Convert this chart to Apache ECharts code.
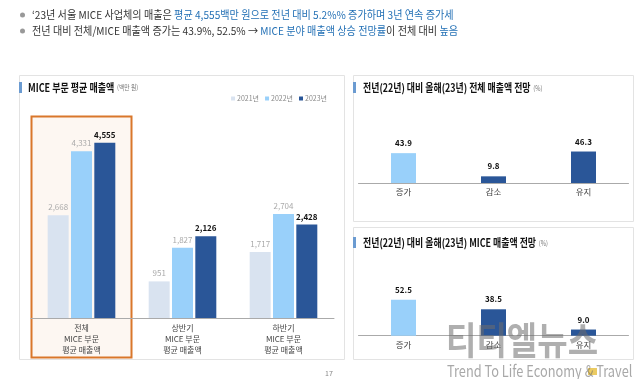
<!DOCTYPE html>
<html><head><meta charset="utf-8">
<script src="https://cdn.jsdelivr.net/npm/echarts@6/dist/echarts.min.js"></script>
<style>html,body{margin:0;padding:0;background:#fff}#c{width:640px;height:379px}</style>
</head><body><div id="c"></div>
<script>
const FONT = '"Noto Sans CJK KR", "Noto Sans", sans-serif';
// Left chart data
const categories = ['전체\nMICE 부문\n평균 매출액', '상반기\nMICE 부문\n평균 매출액', '하반기\nMICE 부문\n평균 매출액'];
const years = ['2021년', '2022년', '2023년'];
const values2021 = [2668, 951, 1717];
const values2022 = [4331, 1827, 2704];
const values2023 = [4555, 2126, 2428];
// Right charts data
const outlookCats = ['증가', '감소', '유지'];
const totalOutlook = [43.9, 9.8, 46.3];
const miceOutlook = [52.5, 38.5, 9.0];

const C21 = '#d9e3f0', C22 = '#99d0fa', C23 = '#2a5698';

const chart = echarts.init(document.getElementById('c'), null, {renderer: 'canvas'});

function barLabel(color, bold) {
  return {show: true, position: 'top', distance: 4, fontFamily: FONT, fontSize: 8,
          color: color, fontWeight: bold ? 'bold' : 'normal',
          formatter: p => p.value.toLocaleString('en-US')};
}

const option = {
  backgroundColor: '#fff',
  animation: false,
  textStyle: {fontFamily: FONT},
  legend: {
    data: years, right: 308, top: 90, itemWidth: 4, itemHeight: 4, itemGap: 6,
    icon: 'rect',
    textStyle: {fontFamily: FONT, fontSize: 7, color: '#888', padding: [0, 0, 0, -3]}
  },
  grid: [
    {left: 31, width: 303, top: 125.6, height: 192.4},
    {left: 358.5, width: 270, top: 115, height: 68},
    {left: 358.5, width: 270, top: 267.1, height: 68.6}
  ],
  xAxis: [
    {gridIndex: 0, type: 'category', data: categories,
     axisLine: {lineStyle: {color: '#aaa'}}, axisTick: {show: false},
     axisLabel: {fontFamily: FONT, fontSize: 8, color: '#444', lineHeight: 10.7, margin: 5}},
    {gridIndex: 1, type: 'category', data: outlookCats,
     axisLine: {lineStyle: {color: '#aaa'}}, axisTick: {show: false},
     axisLabel: {fontFamily: FONT, fontSize: 8.5, color: '#444', margin: 5}},
    {gridIndex: 2, type: 'category', data: outlookCats,
     axisLine: {lineStyle: {color: '#aaa'}}, axisTick: {show: false},
     axisLabel: {fontFamily: FONT, fontSize: 8.5, color: '#444', margin: 5}}
  ],
  yAxis: [
    {gridIndex: 0, type: 'value', min: 0, max: 5000, show: false, splitLine: {show: false}},
    {gridIndex: 1, type: 'value', min: 0, max: 100, show: false, splitLine: {show: false}},
    {gridIndex: 2, type: 'value', min: 0, max: 100, show: false, splitLine: {show: false}}
  ],
  series: [
    {name: years[0], type: 'bar', xAxisIndex: 0, yAxisIndex: 0, data: values2021,
     barWidth: 21, barGap: '11%', itemStyle: {color: C21}, label: barLabel('#aaa', false)},
    {name: years[1], type: 'bar', xAxisIndex: 0, yAxisIndex: 0, data: values2022,
     barWidth: 21, barGap: '11%', itemStyle: {color: C22}, label: barLabel('#aaa', false)},
    {name: years[2], type: 'bar', xAxisIndex: 0, yAxisIndex: 0, data: values2023,
     barWidth: 21, barGap: '11%', itemStyle: {color: C23}, label: barLabel('#111', true)},
    {name: 'total', type: 'bar', xAxisIndex: 1, yAxisIndex: 1, barWidth: 25,
     data: totalOutlook.map((v, i) => ({value: v, itemStyle: {color: i === 0 ? C22 : C23}})),
     label: {show: true, position: 'top', distance: 6, fontFamily: FONT, fontSize: 8, fontWeight: 'bold', color: '#111',
             formatter: p => p.value.toFixed(1)}},
    {name: 'mice', type: 'bar', xAxisIndex: 2, yAxisIndex: 2, barWidth: 25,
     data: miceOutlook.map((v, i) => ({value: v, itemStyle: {color: i === 0 ? C22 : C23}})),
     label: {show: true, position: 'top', distance: 6, fontFamily: FONT, fontSize: 8, fontWeight: 'bold', color: '#111',
             formatter: p => p.value.toFixed(1)}}
  ],
  graphic: [
    // panels
    {type: 'rect', z: -10, shape: {x: 19.5, y: 75.5, width: 325, height: 284}, style: {fill: '#fff', stroke: '#e3e3e3', lineWidth: 1}},
    {type: 'rect', z: -10, shape: {x: 353.5, y: 75.5, width: 280, height: 146}, style: {fill: '#fff', stroke: '#e3e3e3', lineWidth: 1}},
    {type: 'rect', z: -10, shape: {x: 353.5, y: 227.5, width: 280, height: 132}, style: {fill: '#fff', stroke: '#e3e3e3', lineWidth: 1}},
    // highlight box
    {type: 'rect', z: -5, shape: {x: 31.5, y: 116.5, width: 100, height: 241}, style: {fill: '#fdf7f2', stroke: '#d9772b', lineWidth: 2}},
    // title markers
    {type: 'rect', shape: {x: 19, y: 82, width: 3, height: 11}, style: {fill: '#6b9bd1'}},
    {type: 'rect', shape: {x: 353, y: 82, width: 3, height: 11}, style: {fill: '#6b9bd1'}},
    {type: 'rect', shape: {x: 353, y: 237, width: 3, height: 11}, style: {fill: '#6b9bd1'}},
    // titles
    {type: 'text', x: 28, y: 87.5, scaleX: 0.82, style: {text: '{b|MICE 부문 평균 매출액} {s|(백만 원)}', verticalAlign: 'middle',
      rich: {b: {fontFamily: FONT, fontSize: 11, fontWeight: 'bold', fill: '#111'}, s: {fontFamily: FONT, fontSize: 7, fill: '#777'}}}},
    {type: 'text', x: 363, y: 88, scaleX: 0.81, style: {text: '{b|전년(22년) 대비 올해(23년) 전체 매출액 전망} {s|(%)}', verticalAlign: 'middle',
      rich: {b: {fontFamily: FONT, fontSize: 11, fontWeight: 'bold', fill: '#111'}, s: {fontFamily: FONT, fontSize: 7, fill: '#777'}}}},
    {type: 'text', x: 363, y: 243, scaleX: 0.81, style: {text: '{b|전년(22년) 대비 올해(23년) MICE 매출액 전망} {s|(%)}', verticalAlign: 'middle',
      rich: {b: {fontFamily: FONT, fontSize: 11, fontWeight: 'bold', fill: '#111'}, s: {fontFamily: FONT, fontSize: 7, fill: '#777'}}}},
    // bullets
    {type: 'circle', shape: {cx: 22.5, cy: 15, r: 2.5}, style: {fill: '#999'}},
    {type: 'circle', shape: {cx: 22.5, cy: 31, r: 2.5}, style: {fill: '#999'}},
    {type: 'text', x: 32, y: 15, scaleX: 0.92, style: {verticalAlign: 'middle',
      text: '{k|‘23년 서울 MICE 사업체의 매출은 }{b|평균 4,555백만 원으로 전년 대비 5.2%% 증가하며 3년 연속 증가세}',
      rich: {k: {fontFamily: FONT, fontSize: 11, fill: '#333'}, b: {fontFamily: FONT, fontSize: 11, fill: '#2370b5'}}}},
    {type: 'text', x: 32, y: 31, scaleX: 0.92, style: {verticalAlign: 'middle',
      text: '{k|전년 대비 전체/MICE 매출액 증가는 43.9%, 52.5% → }{b|MICE 분야 매출액 상승 전망률}{k|이 전체 대비 }{b|높음}',
      rich: {k: {fontFamily: FONT, fontSize: 11, fill: '#333'}, b: {fontFamily: FONT, fontSize: 11, fill: '#2370b5'}}}},
    // page number
    {type: 'text', x: 325, y: 373, style: {text: '17', fontFamily: FONT, fontSize: 7, fill: '#888', verticalAlign: 'middle'}},
    // watermark
    {type: 'rect', z: 99, shape: {x: 588, y: 368, width: 9, height: 7}, style: {fill: 'rgba(230,190,60,0.8)'}},
    {type: 'text', z: 100, x: 446, y: 340, scaleX: 0.87, style: {text: '티티엘뉴스', fontFamily: FONT, fontSize: 38, fontWeight: 'bold',
      fill: 'rgba(110,110,110,0.55)', verticalAlign: 'middle'}},
    {type: 'text', z: 100, x: 447, y: 371, scaleX: 0.8, style: {text: 'Trend To Life Economy & Travel', fontFamily: FONT, fontSize: 16,
      fill: 'rgba(110,110,110,0.6)', verticalAlign: 'middle'}}
  ]
};
chart.setOption(option);
</script></body></html>
